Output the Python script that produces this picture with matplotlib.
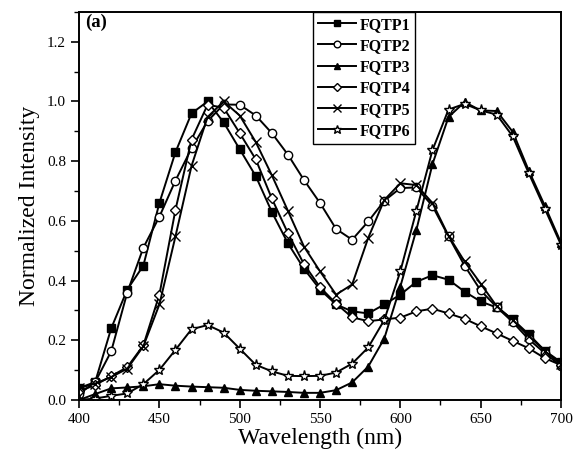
import numpy as np
import matplotlib
matplotlib.use("Agg")
import matplotlib.pyplot as plt
from matplotlib.ticker import MultipleLocator

wavelength = list(range(400, 701, 10))

fqtp1 = [0.04, 0.06, 0.24, 0.37, 0.45, 0.66, 0.83, 0.96, 1.00, 0.93, 0.84, 0.75, 0.63, 0.525, 0.44, 0.37,
         0.32, 0.297, 0.29, 0.32, 0.353, 0.396, 0.418, 0.403, 0.363, 0.33, 0.31, 0.27, 0.22, 0.165, 0.127]
fqtp2 = [0.02, 0.06, 0.163, 0.36, 0.51, 0.614, 0.735, 0.843, 0.934, 0.99, 0.989, 0.953, 0.894, 0.822, 0.737, 0.66,
         0.573, 0.537, 0.598, 0.667, 0.71, 0.712, 0.65, 0.548, 0.45, 0.367, 0.311, 0.261, 0.203, 0.157, 0.114]
fqtp3 = [0.0, 0.02, 0.039, 0.042, 0.046, 0.053, 0.048, 0.045, 0.043, 0.041, 0.034, 0.031, 0.029, 0.027, 0.024, 0.024,
         0.033, 0.059, 0.112, 0.206, 0.38, 0.57, 0.79, 0.948, 0.998, 0.97, 0.968, 0.898, 0.768, 0.65, 0.527]
fqtp4 = [0.03, 0.05, 0.08, 0.11, 0.183, 0.353, 0.637, 0.872, 0.989, 0.979, 0.894, 0.806, 0.675, 0.559, 0.455, 0.378,
         0.323, 0.277, 0.264, 0.27, 0.276, 0.297, 0.306, 0.29, 0.272, 0.247, 0.223, 0.198, 0.173, 0.14, 0.117]
fqtp5 = [0.04, 0.055, 0.077, 0.105, 0.18, 0.32, 0.548, 0.784, 0.948, 1.0, 0.953, 0.864, 0.753, 0.634, 0.514, 0.431,
         0.353, 0.387, 0.543, 0.67, 0.726, 0.72, 0.66, 0.55, 0.464, 0.39, 0.314, 0.268, 0.214, 0.164, 0.12]
fqtp6 = [0.0, 0.005, 0.014, 0.022, 0.053, 0.101, 0.168, 0.237, 0.251, 0.226, 0.172, 0.118, 0.096, 0.081, 0.08, 0.081,
         0.092, 0.122, 0.176, 0.268, 0.431, 0.634, 0.837, 0.973, 0.992, 0.97, 0.956, 0.883, 0.759, 0.64, 0.52]

labels = ["FQTP1", "FQTP2", "FQTP3", "FQTP4", "FQTP5", "FQTP6"]
series = [fqtp1, fqtp2, fqtp3, fqtp4, fqtp5, fqtp6]
markers = ["s", "o", "^", "D", "x", "*"]
faces = ["black", "white", "black", "white", "black", "white"]
sizes = [5.5, 6, 6, 5, 7, 8]

plt.rcParams['font.family'] = ['Liberation Serif', 'DejaVu Serif']

fig = plt.figure(figsize=(5.73, 4.58), dpi=100)
ax = fig.add_axes([0.138, 0.1266, 0.841, 0.8474])

for y, lab, m, fc, ms in zip(series, labels, markers, faces, sizes):
    ax.plot(wavelength, y, color="black", lw=1.4, marker=m, markersize=ms,
            markerfacecolor=fc, markeredgecolor="black", markeredgewidth=1.0, label=lab)

ax.set_xlim(400, 700)
ax.set_ylim(0, 1.3)
ax.xaxis.set_major_locator(MultipleLocator(50))
ax.xaxis.set_minor_locator(MultipleLocator(25))
ax.yaxis.set_minor_locator(MultipleLocator(0.1))
ax.set_yticks([0, 0.2, 0.4, 0.6, 0.8, 1.0, 1.2])
ax.set_yticklabels(["0.0", "0.2", "0.4", "0.6", "0.8", "1.0", "1.2"])
ax.tick_params(which="major", direction="out", length=6, width=1.2, labelsize=11, top=False, right=False)
ax.tick_params(which="minor", direction="out", length=3.5, width=1.0, top=False, right=False)
for s in ax.spines.values():
    s.set_linewidth(1.4)

ax.set_xlabel("Wavelength (nm)", fontsize=17, labelpad=1)
ax.set_ylabel("Normalized Intensity", fontsize=17, labelpad=5)

ax.text(0.012, 0.995, "(a)", transform=ax.transAxes, fontsize=13.5, fontweight="bold",
        ha="left", va="top")

leg = ax.legend(loc="upper left", bbox_to_anchor=(0.486, 1.0), borderaxespad=0.0,
                prop={"weight": "bold", "size": 11.5}, handlelength=2.4, handletextpad=0.2,
                labelspacing=0.33, borderpad=0.3, fancybox=False, framealpha=1, markerscale=0.8)
leg.get_frame().set_edgecolor("black")
leg.get_frame().set_linewidth(1.0)

fig.savefig("out.png", dpi=100)
